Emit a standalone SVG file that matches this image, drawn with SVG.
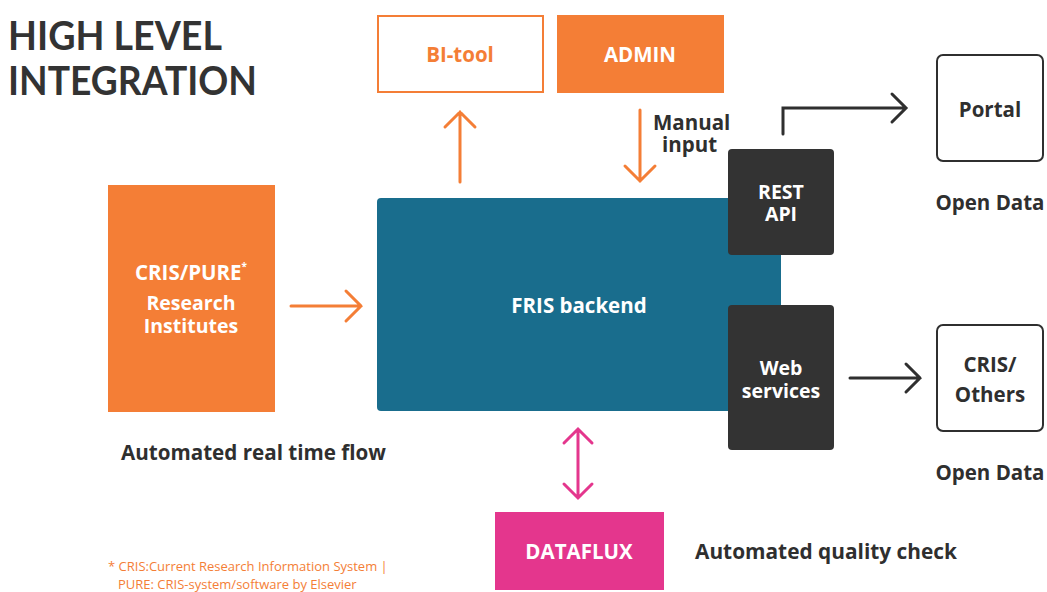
<svg xmlns="http://www.w3.org/2000/svg" width="1047" height="592" viewBox="0 0 1047 592">
  <style>
    text { font-family: "Open Sans", Lato, "Liberation Sans", sans-serif; font-weight: bold; }
    .title { font-family: Lato, "Open Sans", sans-serif; font-size: 40px; fill: #333333; }
    .lbl { font-size: 20.5px; text-anchor: middle; }
    .stack { font-size: 19.5px; }
    .white { fill: #ffffff; }
    .dark { fill: #2f2f2f; }
    .note { font-size: 20.5px; fill: #2f2f2f; }
    .foot { font-size: 13px; fill: #f47e36; font-weight: normal; }
    .conn { fill: none; stroke-width: 3; stroke-linecap: round; stroke-linejoin: miter; }
    .c-orange { stroke: #f47e36; }
    .c-dark { stroke: #2f2f2f; }
    .c-pink { stroke: #e4368d; }
  </style>

  <rect width="1047" height="592" fill="#ffffff"/>

  <g id="title">
    <text class="title" x="8" y="50" textLength="214" lengthAdjust="spacingAndGlyphs">HIGH LEVEL</text>
    <text class="title" x="8" y="95" textLength="249" lengthAdjust="spacingAndGlyphs">INTEGRATION</text>
  </g>

  <g id="bi-tool">
    <rect x="378" y="16" width="165" height="76" fill="#ffffff" stroke="#f47e36" stroke-width="2"/>
    <text class="lbl" x="460" y="62" fill="#f47e36">BI-tool</text>
  </g>

  <g id="admin">
    <rect x="557" y="15" width="167" height="78" fill="#f47e36"/>
    <text class="lbl white" x="640" y="62">ADMIN</text>
  </g>

  <g id="cris-pure">
    <rect x="108" y="185" width="167" height="227" fill="#f47e36"/>
    <text class="lbl white" x="191" y="280"><tspan>CRIS/PURE</tspan><tspan font-size="10" dy="-10">*</tspan><tspan class="stack" x="191" y="310">Research</tspan><tspan class="stack" x="191" y="333">Institutes</tspan></text>
  </g>

  <g id="fris-backend">
    <rect x="377" y="198" width="404" height="213" rx="4" fill="#196d8d"/>
    <text class="lbl white" x="579" y="313">FRIS backend</text>
  </g>

  <g id="rest-api">
    <rect x="728" y="149" width="106" height="106" rx="4" fill="#333333"/>
    <text class="lbl stack white" x="781" y="199">REST<tspan x="781" y="221">API</tspan></text>
  </g>

  <g id="web-services">
    <rect x="728" y="305" width="106" height="145" rx="4" fill="#333333"/>
    <text class="lbl stack white" x="781" y="375">Web<tspan x="781" y="398">services</tspan></text>
  </g>

  <g id="portal">
    <rect x="937" y="55" width="106" height="106" rx="6" fill="#ffffff" stroke="#2f2f2f" stroke-width="2"/>
    <text class="lbl dark" x="990" y="117">Portal</text>
  </g>

  <g id="cris-others">
    <rect x="937" y="325" width="106" height="106" rx="6" fill="#ffffff" stroke="#2f2f2f" stroke-width="2"/>
    <text class="lbl dark" x="990" y="372">CRIS/<tspan x="990" y="402">Others</tspan></text>
  </g>

  <g id="dataflux">
    <rect x="495" y="512" width="169" height="78" fill="#e4368d"/>
    <text class="lbl white" x="579" y="559">DATAFLUX</text>
  </g>

  <g id="connectors">
    <!-- FRIS backend to BI-tool -->
    <path class="conn c-orange" d="M460 182 V112 M445 127 L460 112 L475 127"/>
    <!-- ADMIN to FRIS backend -->
    <path class="conn c-orange" d="M640 110 V181 M625 166 L640 181 L655 166"/>
    <!-- CRIS/PURE to FRIS backend -->
    <path class="conn c-orange" d="M291 306 H361 M346 291 L361 306 L346 321"/>
    <!-- REST API to Portal -->
    <path class="conn c-dark" d="M783 134 V108 H905 M892 94 L906 108 L892 122"/>
    <!-- Web services to CRIS/Others -->
    <path class="conn c-dark" d="M850 378 H920 M906 364 L920 378 L906 392"/>
    <!-- FRIS backend to DATAFLUX, both ways -->
    <path class="conn c-pink" d="M578 430 V497 M564 443 L578 429 L592 443 M564 484 L578 498 L592 484"/>
  </g>

  <g id="labels">
    <text class="note stack" x="653" y="130">Manual<tspan x="662" y="152">input</tspan></text>
    <text class="note" x="990" y="210" text-anchor="middle">Open Data</text>
    <text class="note" x="990" y="480" text-anchor="middle">Open Data</text>
    <text class="note" x="121" y="460" textLength="265" lengthAdjust="spacingAndGlyphs">Automated real time flow</text>
    <text class="note" x="695" y="559" textLength="262" lengthAdjust="spacingAndGlyphs">Automated quality check</text>
    <text class="foot" x="108" y="571">* CRIS:Current Research Information System |</text>
    <text class="foot" x="118" y="589">PURE: CRIS-system/software by Elsevier</text>
  </g>
</svg>
